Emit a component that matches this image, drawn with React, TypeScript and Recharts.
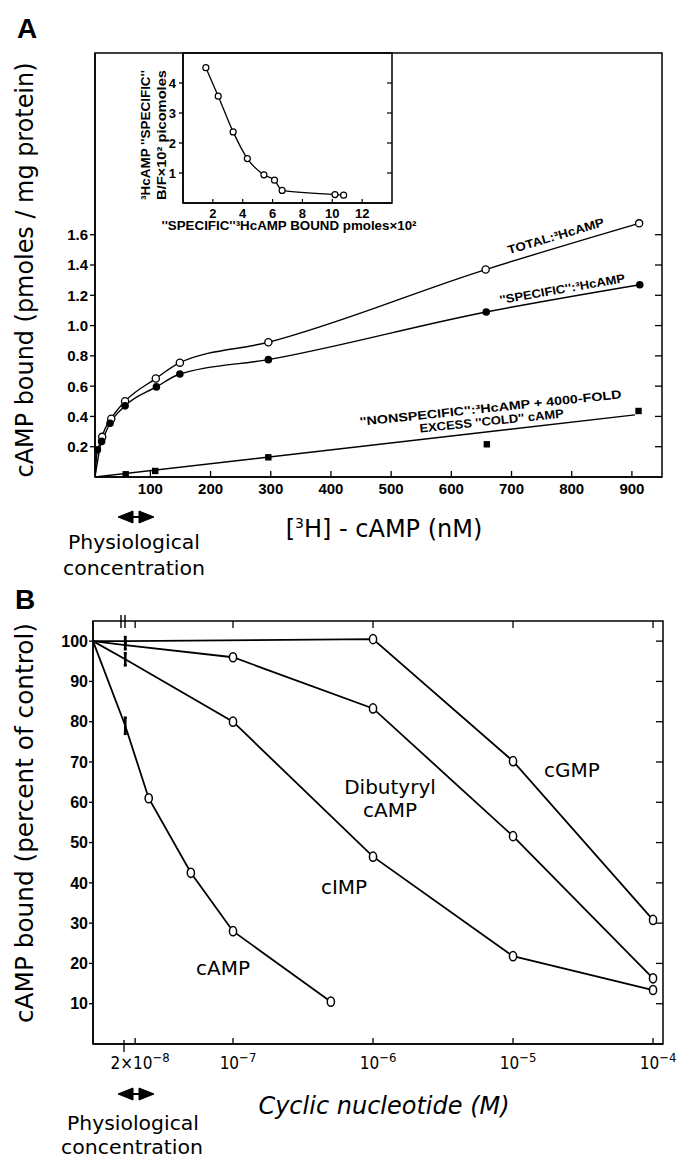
import React from 'react';
import {
  ComposedChart,
  LineChart,
  Line,
  Scatter,
  XAxis,
  YAxis,
  ReferenceArea,
  ErrorBar,
} from 'recharts';

// ---------- Panel A: [3H]-cAMP binding (nM vs pmoles/mg protein) ----------
const totalConc = [8, 20, 35, 58, 109, 149, 296, 657, 912];
const totalBound = [0, 0.265, 0.385, 0.5, 0.65, 0.755, 0.89, 1.37, 1.675];
const specificConc = [8, 12, 19, 33, 58, 110, 149, 296, 658, 913];
const specificBound = [0, 0.18, 0.235, 0.355, 0.47, 0.595, 0.68, 0.775, 1.09, 1.27];
const nonspecConc = [59, 108, 296, 659, 911];
const nonspecBound = [0.018, 0.04, 0.13, 0.216, 0.436];
const nonspecFitConc = [8, 905];
const nonspecFitBound = [0, 0.41];
const aXTicks = [100, 200, 300, 400, 500, 600, 700, 800, 900];
const aYTicks = [0.2, 0.4, 0.6, 0.8, 1.0, 1.2, 1.4, 1.6];

// inset: "specific" B/F vs bound
const insetBound = [1.53, 2.36, 3.36, 4.31, 5.42, 6.13, 6.64, 10.18, 10.76];
const insetRatio = [4.51, 3.56, 2.37, 1.48, 0.94, 0.76, 0.42, 0.28, 0.26];
const insetXTicks = [2, 4, 6, 8, 10, 12];
const insetYTicks = [1, 2, 3, 4];

// ---------- Panel B: competition by cyclic nucleotides (M vs % of control) ----------
const campConc = [1e-8, 1.7e-8, 2.5e-8, 5e-8, 1e-7, 5e-7];
const campPct = [100, 79, 61, 42.5, 28, 10.5];
const cimpConc = [1e-8, 1.7e-8, 1e-7, 1e-6, 1e-5, 1e-4];
const cimpPct = [100, 95.5, 80, 46.5, 21.8, 13.4];
const dibutConc = [1e-8, 1.7e-8, 1e-7, 1e-6, 1e-5, 1e-4];
const dibutPct = [100, 99, 96, 83.3, 51.6, 16.3];
const cgmpConc = [1e-8, 1.7e-8, 1e-6, 1e-5, 1e-4];
const cgmpPct = [100, 100, 100.5, 70.2, 30.8];
const barErr = [2, 1.5, 1, 1]; // cAMP, cIMP, dibutyryl, cGMP at the first measured dose
const bXTicks = [2e-8, 1e-7, 1e-6, 1e-5, 1e-4];
const bXTickBase = ['2×10', '10', '10', '10', '10'];
const bXTickExp = ['−8', '−7', '−6', '−5', '−4'];
const bYTicks = [10, 20, 30, 40, 50, 60, 70, 80, 90, 100];

const pts = (xs: number[], ys: number[]) => xs.map((x, i) => ({ x, y: ys[i] }));

const A_XMIN = 8;
const A_XMAX = 950;
const A_RIGHT = 662;
const B_XMIN = 1e-8;
const B_XMAX = 1.178e-4;
const B_RIGHT = 663;
const B_TOP = 61;
const INSET_RIGHT = 292;

const ink = '#000';
const helv = "'Liberation Sans', Arial, sans-serif";
const tickFont = { fontFamily: helv, fontWeight: 700, fontSize: 15, fill: ink };
const smallFont = { fontFamily: helv, fontWeight: 700, fontSize: 12, fill: ink };
const hand = "'Comic Sans MS', 'DejaVu Sans', sans-serif";
const axisLine = { stroke: ink, strokeWidth: 1.5 };
const tickLine = { stroke: ink, strokeWidth: 1.3 };

const AXTick = (props: any) => {
  const { x, y, payload } = props;
  return (
    <g>
      <line x1={x} x2={x} y1={y} y2={y - 6} stroke={ink} strokeWidth={1.3} />
      <text x={x} y={y + 17} textAnchor="middle" style={tickFont}>{payload.value}</text>
    </g>
  );
};

const AYTick = (props: any) => {
  const { x, y, payload } = props;
  return (
    <g>
      <line x1={A_RIGHT - 7} x2={A_RIGHT} y1={y} y2={y} stroke={ink} strokeWidth={1.3} />
      <text x={x} y={y} dy="0.36em" textAnchor="end" style={tickFont}>{payload.value.toFixed(1)}</text>
    </g>
  );
};

const InsetXTick = (props: any) => {
  const { x, y, payload } = props;
  return (
    <g>
      <line x1={x} x2={x} y1={y} y2={y - 4} stroke={ink} strokeWidth={1.2} />
      <text x={x} y={y + 15} textAnchor="middle" style={{ ...smallFont, fontSize: 13 }}>{payload.value}</text>
    </g>
  );
};

const InsetYTick = (props: any) => {
  const { x, y, payload } = props;
  return (
    <g>
      <line x1={INSET_RIGHT - 5} x2={INSET_RIGHT} y1={y} y2={y} stroke={ink} strokeWidth={1.2} />
      <text x={x} y={y} dy="0.36em" textAnchor="end" style={{ ...smallFont, fontSize: 13 }}>{payload.value}</text>
    </g>
  );
};

const BXTick = (props: any) => {
  const { x, y, payload } = props;
  const i = bXTicks.indexOf(payload.value);
  return (
    <g>
      <line x1={x} x2={x} y1={y} y2={y - 6} stroke={ink} strokeWidth={1.3} />
      <line x1={x} x2={x} y1={B_TOP} y2={B_TOP + 7} stroke={ink} strokeWidth={1.3} />
      <text x={x + 5} y={y + 25} textAnchor="middle" style={{ fontFamily: "'DejaVu Sans Condensed', sans-serif", fontSize: 17, fill: ink }}>
        {bXTickBase[i]}
        <tspan dy={-7} fontSize={13}>{bXTickExp[i]}</tspan>
      </text>
    </g>
  );
};

const BYTick = (props: any) => {
  const { x, y, payload } = props;
  return (
    <g>
      <line x1={B_RIGHT - 7} x2={B_RIGHT} y1={y} y2={y} stroke={ink} strokeWidth={1.3} />
      <text x={x} y={y} dy="0.36em" textAnchor="end" style={{ ...tickFont, fontSize: 16 }}>{payload.value}</text>
    </g>
  );
};

const openDot = (p: any) =>
  p.payload.y > 0 ? (
    <circle key={`o${p.index}`} cx={p.cx} cy={p.cy} r={3.6} fill="#fff" stroke={ink} strokeWidth={1.3} />
  ) : (
    <g key={`o${p.index}`} />
  );

const filledDot = (p: any) =>
  p.payload.y > 0 ? <circle key={`f${p.index}`} cx={p.cx} cy={p.cy} r={3.8} fill={ink} /> : <g key={`f${p.index}`} />;

const insetDot = (p: any) => (
  <circle key={`i${p.index}`} cx={p.cx} cy={p.cy} r={3} fill="#fff" stroke={ink} strokeWidth={1.2} />
);

const squareShape = (p: any) => <rect x={p.cx - 3.2} y={p.cy - 3.2} width={6.4} height={6.4} fill={ink} />;

const bDot = (p: any) =>
  p.payload.x > 2e-8 ? (
    <ellipse key={`b${p.index}`} cx={p.cx} cy={p.cy} rx={3.6} ry={4.6} fill="#fff" stroke={ink} strokeWidth={1.5} />
  ) : (
    <g key={`b${p.index}`} />
  );

const noShape = () => <g />;

const Arrow = ({ cx, cy }: { cx: number; cy: number }) => (
  <g fill={ink} stroke={ink}>
    <line x1={cx - 16} x2={cx + 16} y1={cy} y2={cy} strokeWidth={2} />
    <path d={`M${cx - 18},${cy} L${cx - 3},${cy - 6} L${cx - 3},${cy + 6} Z`} />
    <path d={`M${cx + 18},${cy} L${cx + 3},${cy - 6} L${cx + 3},${cy + 6} Z`} />
  </g>
);

export default function App() {
  const total = pts(totalConc, totalBound);
  const specific = pts(specificConc, specificBound);
  const nonspec = pts(nonspecConc, nonspecBound);
  const nonspecFit = pts(nonspecFitConc, nonspecFitBound);
  const inset = pts(insetBound, insetRatio);

  const bSeries = [
    pts(campConc, campPct),
    pts(cimpConc, cimpPct),
    pts(dibutConc, dibutPct),
    pts(cgmpConc, cgmpPct),
  ];
  const barPts = bSeries.map((s, i) => ({ x: s[1].x, y: s[1].y, err: barErr[i] }));

  const handText = { fontFamily: hand, fill: ink };
  const fit = { lengthAdjust: 'spacingAndGlyphs' as const };

  return (
    <div style={{ position: 'absolute', left: 0, top: 0, width: 680, height: 1162, background: '#fff' }}>
      {/* Panel A */}
      <div style={{ position: 'absolute', left: 0, top: 0 }}>
        <ComposedChart width={680} height={520} margin={{ top: 53, right: 18, bottom: 13, left: 0 }}>
          <XAxis
            type="number"
            dataKey="x"
            domain={[A_XMIN, A_XMAX]}
            ticks={aXTicks}
            interval={0}
            allowDataOverflow
            height={30}
            tickSize={0}
            tickMargin={0}
            axisLine={axisLine}
            tickLine={false}
            tick={<AXTick />}
          />
          <YAxis
            type="number"
            dataKey="y"
            domain={[0, 2.8]}
            ticks={aYTicks}
            interval={0}
            allowDataOverflow
            width={95}
            tickSize={5}
            tickMargin={2}
            axisLine={axisLine}
            tickLine={tickLine}
            tick={<AYTick />}
          />
          <ReferenceArea x1={A_XMIN} x2={A_XMAX} y1={0} y2={2.8} fill="none" stroke={ink} strokeWidth={1.5} />
          <Line data={nonspecFit} dataKey="y" type="linear" stroke={ink} strokeWidth={1.4} dot={false} isAnimationActive={false} />
          <Line data={total} dataKey="y" type="monotone" stroke={ink} strokeWidth={1.4} dot={openDot} isAnimationActive={false} />
          <Line data={specific} dataKey="y" type="monotone" stroke={ink} strokeWidth={1.4} dot={filledDot} isAnimationActive={false} />
          <Scatter data={nonspec} dataKey="y" shape={squareShape} isAnimationActive={false} />
        </ComposedChart>
      </div>

      {/* Inset */}
      <div style={{ position: 'absolute', left: 100, top: 40 }}>
        <LineChart width={300} height={200} margin={{ top: 13, right: 8, bottom: 17, left: 0 }}>
          <XAxis
            type="number"
            dataKey="x"
            domain={[0, 14]}
            ticks={insetXTicks}
            interval={0}
            allowDataOverflow
            height={20}
            tickSize={0}
            tickMargin={0}
            axisLine={axisLine}
            tickLine={false}
            tick={<InsetXTick />}
          />
          <YAxis
            type="number"
            dataKey="y"
            domain={[0, 5]}
            ticks={insetYTicks}
            interval={0}
            allowDataOverflow
            width={83}
            tickSize={4}
            tickMargin={3}
            axisLine={axisLine}
            tickLine={tickLine}
            tick={<InsetYTick />}
          />
          <ReferenceArea x1={0} x2={14} y1={0} y2={5} fill="none" stroke={ink} strokeWidth={1.5} />
          <Line data={inset} dataKey="y" type="monotone" stroke={ink} strokeWidth={1.3} dot={insetDot} isAnimationActive={false} />
        </LineChart>
      </div>

      {/* Panel B */}
      <div style={{ position: 'absolute', left: 0, top: 560 }}>
        <ComposedChart width={680} height={520} margin={{ top: 61, right: 17, bottom: 6, left: 0 }}>
          <XAxis
            type="number"
            dataKey="x"
            scale="log"
            domain={[B_XMIN, B_XMAX]}
            ticks={bXTicks}
            interval={0}
            allowDataOverflow
            height={30}
            tickSize={0}
            tickMargin={0}
            axisLine={axisLine}
            tickLine={false}
            tick={<BXTick />}
          />
          <YAxis
            type="number"
            dataKey="y"
            domain={[0, 105]}
            ticks={bYTicks}
            interval={0}
            allowDataOverflow
            width={93}
            tickSize={4}
            tickMargin={1}
            axisLine={axisLine}
            tickLine={tickLine}
            tick={<BYTick />}
          />
          <ReferenceArea x1={B_XMIN} x2={B_XMAX} y1={0} y2={105} fill="none" stroke={ink} strokeWidth={1.5} />
          {bSeries.map((s, i) => (
            <Line key={i} data={s} dataKey="y" type="linear" stroke={ink} strokeWidth={1.8} dot={bDot} isAnimationActive={false} />
          ))}
          <Scatter data={barPts} dataKey="y" shape={noShape} isAnimationActive={false}>
            <ErrorBar dataKey="err" direction="y" width={1.5} stroke={ink} strokeWidth={2.6} />
          </Scatter>
        </ComposedChart>
      </div>

      {/* text overlay */}
      <svg width={680} height={1162} style={{ position: 'absolute', left: 0, top: 0, pointerEvents: 'none' }}>
        <text x={27} y={38} textAnchor="middle" style={{ ...tickFont, fontSize: 28 }}>A</text>
        <text x={25} y={609} textAnchor="middle" style={{ ...tickFont, fontSize: 28 }}>B</text>

        {/* panel A titles */}
        <text transform="translate(33,270) rotate(-90)" textAnchor="middle" textLength={415} {...fit} style={{ ...handText, fontSize: 24 }}>
          cAMP bound (pmoles / mg protein)
        </text>
        <text x={384} y={537} textAnchor="middle" style={{ ...handText, fontSize: 24 }}>
          [<tspan dy={-9} fontSize={14}>3</tspan><tspan dy={9}>H] - cAMP (nM)</tspan>
        </text>
        <Arrow cx={136} cy={517} />
        <text x={134} y={549} textAnchor="middle" textLength={132} {...fit} style={{ ...handText, fontSize: 20 }}>Physiological</text>
        <text x={134} y={575} textAnchor="middle" textLength={142} {...fit} style={{ ...handText, fontSize: 20 }}>concentration</text>

        {/* panel A curve labels */}
        <text transform="translate(557,240) rotate(-16.5)" textAnchor="middle" textLength={100} {...fit} style={smallFont}>TOTAL:³HcAMP</text>
        <text transform="translate(563,293) rotate(-10)" textAnchor="middle" textLength={127} {...fit} style={smallFont}>''SPECIFIC'':³HcAMP</text>
        <text transform="translate(491,412) rotate(-6)" textAnchor="middle" textLength={263} {...fit} style={smallFont}>''NONSPECIFIC'':³HcAMP + 4000-FOLD</text>
        <text transform="translate(492,425) rotate(-6)" textAnchor="middle" textLength={145} {...fit} style={smallFont}>EXCESS ''COLD'' cAMP</text>

        {/* inset titles */}
        <text transform="translate(150,135) rotate(-90)" textAnchor="middle" textLength={130} {...fit} style={smallFont}>³HcAMP ''SPECIFIC''</text>
        <text transform="translate(166,135) rotate(-90)" textAnchor="middle" textLength={130} {...fit} style={smallFont}>B/F×10² picomoles</text>
        <text x={289} y={230} textAnchor="middle" textLength={255} {...fit} style={smallFont}>''SPECIFIC''³HcAMP BOUND pmoles×10²</text>

        {/* panel B titles */}
        <text transform="translate(33,823) rotate(-90)" textAnchor="middle" textLength={400} {...fit} style={{ ...handText, fontSize: 24 }}>
          cAMP bound (percent of control)
        </text>
        <text x={384} y={1114} textAnchor="middle" style={{ ...handText, fontSize: 24, fontStyle: 'italic' }}>Cyclic nucleotide (M)</text>
        <Arrow cx={136} cy={1094} />
        <text x={133} y={1130} textAnchor="middle" textLength={132} {...fit} style={{ ...handText, fontSize: 19 }}>Physiological</text>
        <text x={132} y={1154} textAnchor="middle" textLength={142} {...fit} style={{ ...handText, fontSize: 19 }}>concentration</text>

        {/* panel B axis-break marks */}
        <line x1={121} x2={121} y1={615} y2={628} stroke={ink} strokeWidth={1.4} />
        <line x1={125} x2={125} y1={615} y2={628} stroke={ink} strokeWidth={1.4} />
        <line x1={124} x2={124} y1={1040} y2={1052} stroke={ink} strokeWidth={1.3} />

        {/* panel B series labels */}
        <text x={572} y={777} textAnchor="middle" style={{ ...handText, fontSize: 20 }}>cGMP</text>
        <text x={390} y={794} textAnchor="middle" style={{ ...handText, fontSize: 20 }}>Dibutyryl</text>
        <text x={390} y={817} textAnchor="middle" style={{ ...handText, fontSize: 20 }}>cAMP</text>
        <text x={344} y={894} textAnchor="middle" style={{ ...handText, fontSize: 20 }}>cIMP</text>
        <text x={223} y={975} textAnchor="middle" style={{ ...handText, fontSize: 20 }}>cAMP</text>
      </svg>
    </div>
  );
}
